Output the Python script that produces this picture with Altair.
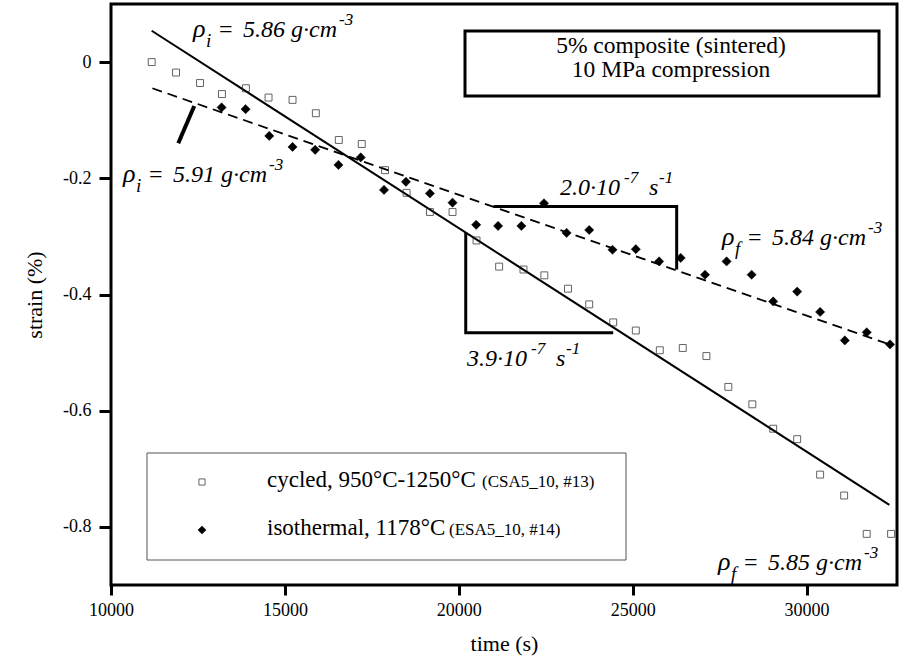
import altair as alt
import pandas as pd

# Measured strain for the two runs
cycled_time = [11170, 11870, 12560, 13190, 13880, 14530, 15220, 15890, 16550, 17210,
               17880, 18500, 19170, 19820, 20510, 21160, 21860, 22460, 23140, 23750,
               24440, 25090, 25780, 26440, 27120, 27750, 28440, 29040, 29730, 30390,
               31080, 31730, 32430]
cycled_strain = [0.0, -0.018, -0.036, -0.055, -0.045, -0.061, -0.065, -0.088, -0.134, -0.141,
                 -0.186, -0.225, -0.258, -0.258, -0.307, -0.352, -0.357, -0.367, -0.390, -0.417,
                 -0.448, -0.462, -0.496, -0.492, -0.506, -0.559, -0.589, -0.631, -0.649, -0.710,
                 -0.746, -0.812, -0.812]

iso_time = [13180, 13870, 14550, 15220, 15870, 16540, 17180, 17850, 18480, 19170,
            19820, 20500, 21130, 21800, 22450, 23100, 23750, 24420, 25090, 25760,
            26380, 27080, 27700, 28420, 29040, 29730, 30390, 31100, 31730, 32400]
iso_strain = [-0.078, -0.081, -0.127, -0.146, -0.151, -0.177, -0.164, -0.220, -0.206, -0.226,
              -0.242, -0.280, -0.282, -0.282, -0.243, -0.294, -0.289, -0.323, -0.322, -0.343,
              -0.337, -0.366, -0.343, -0.366, -0.412, -0.395, -0.430, -0.479, -0.465, -0.486]

# Linear creep fits (end points)
cycled_fit_time = [11170, 32380]
cycled_fit_strain = [0.054, -0.762]
iso_fit_time = [11190, 32480]
iso_fit_strain = [-0.045, -0.488]

# Slope brackets and the pointer to the initial-density label
iso_bracket_time = [21000, 26265, 26265]
iso_bracket_strain = [-0.2486, -0.2486, -0.357]
cyc_bracket_time = [20200, 20200, 24440]
cyc_bracket_strain = [-0.293, -0.466, -0.466]
pointer_time = [12394, 11934]
pointer_strain = [-0.0756, -0.1397]

x_ticks = [10000, 15000, 20000, 25000, 30000]
y_ticks = [0, -0.2, -0.4, -0.6, -0.8]

SERIF = "Liberation Serif"

x_scale = alt.Scale(domain=[10000, 32600], nice=False, zero=False)
y_scale = alt.Scale(domain=[-0.9, 0.1], nice=False, zero=False)

x_axis = alt.Axis(values=x_ticks, format="d", title="time (s)",
                  grid=False, domain=False, tickSize=10, tickWidth=3, tickColor="black",
                  labelFont=SERIF, labelFontSize=18, labelColor="black", labelPadding=6,
                  labelFlush=False,
                  titleFont=SERIF, titleFontSize=22, titleFontWeight="normal",
                  titleColor="black", titlePadding=14)
y_axis = alt.Axis(values=y_ticks, title="strain (%)",
                  labelExpr="datum.value == 0 ? '0' : '-' + format(abs(datum.value), '.1f')",
                  grid=False, domain=False, tickSize=12, tickWidth=3, tickColor="black",
                  labelFont=SERIF, labelFontSize=18, labelColor="black", labelPadding=8,
                  titleFont=SERIF, titleFontSize=22, titleFontWeight="normal",
                  titleColor="black", titlePadding=16)

cyc_df = pd.DataFrame({"time": cycled_time, "strain": cycled_strain})
iso_df = pd.DataFrame({"time": iso_time, "strain": iso_strain})


def path(times, strains):
    return pd.DataFrame({"time": times, "strain": strains, "order": list(range(len(times)))})


def path_layer(df, width, dash=None):
    kw = dict(color="black", strokeWidth=width, strokeCap="butt", clip=True)
    if dash:
        kw["strokeDash"] = dash
    return alt.Chart(df).mark_line(**kw).encode(
        x=alt.X("time:Q", scale=x_scale, axis=x_axis),
        y=alt.Y("strain:Q", scale=y_scale, axis=y_axis),
        order="order:Q",
    )


cyc_points = alt.Chart(cyc_df).mark_point(
    shape="square", size=48, filled=False, stroke="#222222", strokeWidth=1
).encode(x=alt.X("time:Q", scale=x_scale), y=alt.Y("strain:Q", scale=y_scale))

iso_points = alt.Chart(iso_df).mark_point(
    shape="diamond", size=85, filled=True, fill="black", stroke="black", strokeWidth=0.5, opacity=1
).encode(x=alt.X("time:Q", scale=x_scale), y=alt.Y("strain:Q", scale=y_scale))

one = alt.Data(values=[{"k": 0}])


def label(txt, x, y, size, italic=True, align="left"):
    return alt.Chart(one).mark_text(
        align=align, baseline="alphabetic", font=SERIF, fontSize=size,
        fontStyle="italic" if italic else "normal", color="black"
    ).encode(x=alt.value(x), y=alt.value(y), text=alt.value(txt))


def density(sub, value, x, y):
    # rho with subscript, value and a superscript exponent
    return [
        label("ρ", x, y, 26),
        label(sub, x + 13, y + 10, 19),
        label("=", x + 26, y, 24, italic=False),
        label(value + " g·cm", x + 50, y, 24),
        label("-3", x + 146, y - 12, 17),
    ]


def rate(mant, x, y):
    return [
        label(mant + "·10", x, y, 24),
        label("-7", x + 64, y - 12, 17),
        label("s", x + 89, y, 24),
        label("-1", x + 99, y - 12, 17),
    ]


texts = []
texts += density("i", "5.86", 82, 33)
texts += density("i", "5.91", 12, 178)
texts += density("f", "5.84", 611, 241)
texts += density("f", "5.85", 607, 566)
texts += rate("2.0", 449, 191)
texts += rate("3.9", 356, 362)

# Caption box
caption_box = alt.Chart(one).mark_rect(
    fill="white", stroke="black", strokeWidth=3
).encode(x=alt.value(354), x2=alt.value(768), y=alt.value(27), y2=alt.value(92))
caption = [
    label("5% composite (sintered)", 560, 49, 23.5, italic=False, align="center"),
    label("10 MPa compression", 560, 73, 23.5, italic=False, align="center"),
]

# Key box
key_box = alt.Chart(one).mark_rect(
    fill="white", stroke="#555555", strokeWidth=1
).encode(x=alt.value(36), x2=alt.value(515), y=alt.value(449), y2=alt.value(556))
key_sq = alt.Chart(one).mark_point(
    shape="square", size=38, filled=False, stroke="#222222", strokeWidth=1
).encode(x=alt.value(91), y=alt.value(478))
key_dm = alt.Chart(one).mark_point(
    shape="diamond", size=75, filled=True, fill="black", opacity=1
).encode(x=alt.value(91), y=alt.value(526))
key_text = [
    label("cycled, 950°C-1250°C", 156, 483, 23, italic=False),
    label("(CSA5_10,  #13)", 371, 483, 17, italic=False),
    label("isothermal, 1178°C", 156, 531, 23, italic=False),
    label("(ESA5_10, #14)", 338, 531, 17, italic=False),
]

layers = [
    path_layer(path(cycled_fit_time, cycled_fit_strain), 2),
    path_layer(path(iso_fit_time, iso_fit_strain), 1.8, [10, 6]),
    path_layer(path(iso_bracket_time, iso_bracket_strain), 3),
    path_layer(path(cyc_bracket_time, cyc_bracket_strain), 3),
    path_layer(path(pointer_time, pointer_strain), 4),
    cyc_points,
    iso_points,
    caption_box,
    key_box,
    key_sq,
    key_dm,
] + caption + key_text + texts

chart = alt.layer(*layers).properties(
    width=786,
    height=581,
    padding={"left": 111, "top": 4, "right": 7, "bottom": 76},
    autosize=alt.AutoSizeParams(type="none"),
    background="white",
).configure_view(
    stroke="black", strokeWidth=3
)

chart.save("out.html", embed_options={"renderer": "svg", "actions": False})
